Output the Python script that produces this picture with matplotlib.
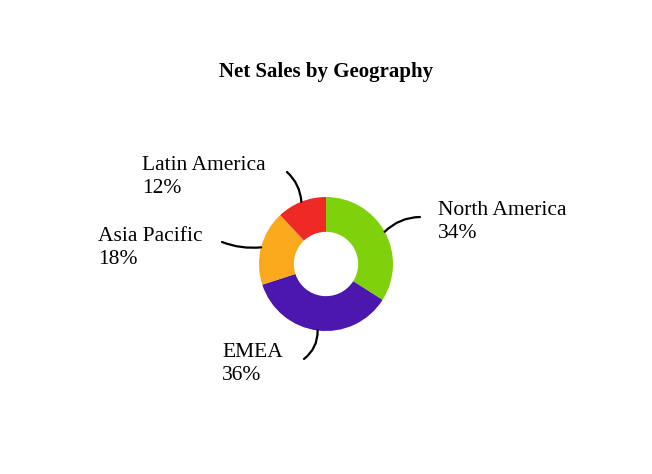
import numpy as np
import matplotlib.pyplot as plt

# Data
regions = ["North America", "EMEA", "Asia Pacific", "Latin America"]
shares = [34, 36, 18, 12]
colors = ["#7ed10b", "#4b17ae", "#f9a91b", "#ef2a26"]

# label anchor (text left x, text center y) and connector end, in pixels from top-left
label_pos = [(438, 222), (222, 364), (98, 248), (142, 177)]
line_end = [(420, 217), (304, 359), (222, 242), (287, 172)]
line_rad = [0.2, 0.25, 0.12, -0.2]

plt.rcParams["font.family"] = ["Liberation Serif", "DejaVu Serif"]

W, H = 652, 474
fig = plt.figure(figsize=(W / 100, H / 100), dpi=100)
ax = fig.add_axes([0, 0, 1, 1])

cx, cy, r = 326, H - 264, 67
wedges, _ = ax.pie(shares, colors=colors, startangle=90, counterclock=False,
                   center=(cx, cy), radius=r, wedgeprops=dict(width=r * 0.52))
ax.set_xlim(0, W)
ax.set_ylim(0, H)
ax.set_aspect("equal")
ax.axis("off")

for w, name, val, (tx, ty), (ex, ey), rad in zip(wedges, regions, shares, label_pos, line_end, line_rad):
    ang = np.deg2rad((w.theta1 + w.theta2) / 2)
    sx, sy = cx + r * np.cos(ang), cy + r * np.sin(ang)
    ax.annotate("", xy=(sx, sy), xytext=(ex, H - ey),
                arrowprops=dict(arrowstyle="-", color="black", lw=1.6,
                                connectionstyle=f"arc3,rad={rad}",
                                shrinkA=0, shrinkB=0))
    ax.text(tx, H - ty, f"{name}\n{val}%", ha="left", va="center",
            fontsize=15.5, linespacing=1.3)

ax.text(W / 2, H - 72, "Net Sales by Geography", ha="center", va="center",
        fontsize=15, fontweight="bold")

fig.savefig("out.png", dpi=100)
